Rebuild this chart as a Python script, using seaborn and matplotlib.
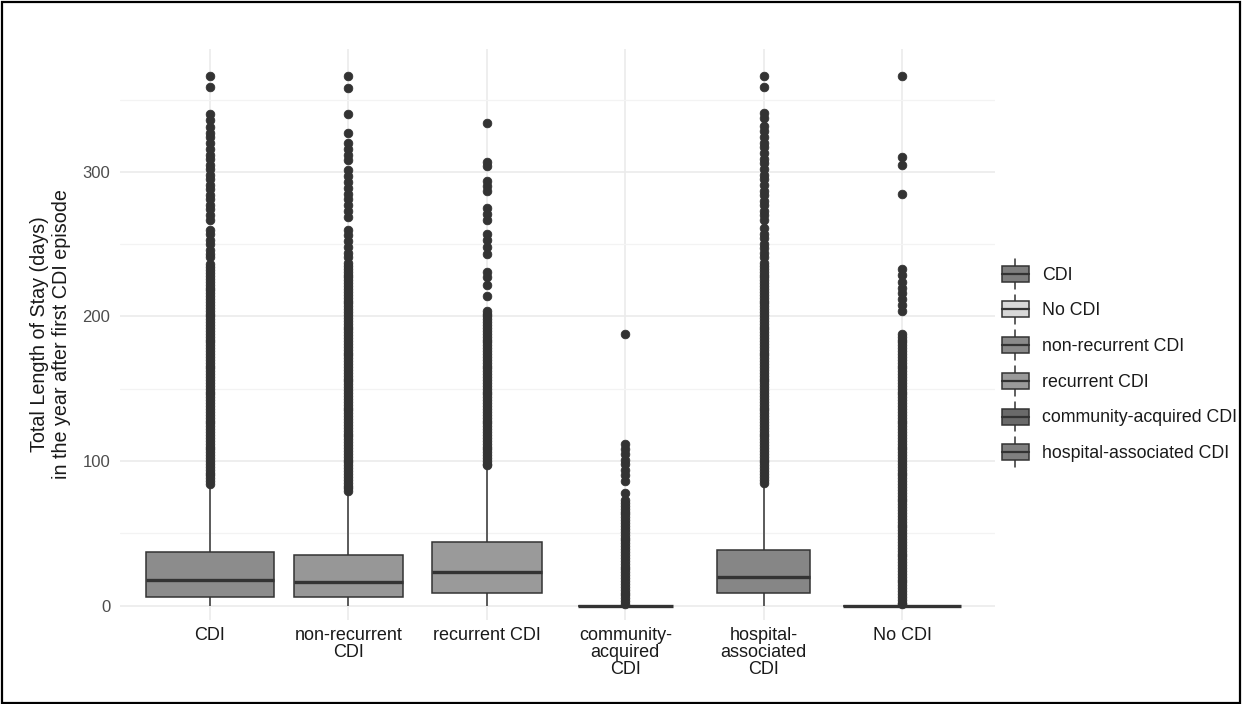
import numpy as np
import pandas as pd
import matplotlib
matplotlib.use("Agg")
import matplotlib.pyplot as plt
import seaborn as sns
from matplotlib.legend_handler import HandlerBase
from matplotlib.patches import Patch, Rectangle
from matplotlib.lines import Line2D
from matplotlib.ticker import FixedLocator

# ---------------- data ----------------
categories = ["CDI", "non-recurrent CDI", "recurrent CDI",
              "community-acquired CDI", "hospital-associated CDI", "No CDI"]
tick_labels = ["CDI", "non-recurrent\nCDI", "recurrent CDI",
               "community-\nacquired\nCDI", "hospital-\nassociated\nCDI", "No CDI"]

# box summaries (days)
whisker_low = [0, 0, 0, 0, 0, 0]
q1 = [6.2, 6.2, 8.5, 0, 8.8, 0]
median = [17.7, 16.6, 23.0, 0, 20.0, 0]
q3 = [36.8, 35.0, 43.7, 0, 38.5, 0]
whisker_high = [82, 77, 95, 0, 82, 0]

# outlying observations (days)
outliers_cdi = [366, 359, 340, 336, 331, 327, 324,
                320, 316, 312, 309, 305, 302, 298, 295, 291, 288, 284, 281, 277, 274, 270, 267,
                260, 257, 253, 250, 246, 243, 241,
                236, 234, 232, 230, 228, 226, 224, 222, 220, 218, 216, 214, 212, 210, 208,
                206, 204, 202, 200, 198, 196, 194, 192, 190, 188, 186, 184, 182, 180, 178,
                176, 174, 172, 170, 168, 166, 164, 162, 160, 158, 156, 154, 152, 150, 148,
                146, 144, 142, 140, 138, 136, 134, 132, 130, 128, 126, 124, 122, 120, 118,
                116, 114, 112, 110, 108, 106, 104, 102, 100, 98, 96, 94, 92, 90, 88, 86, 84]
outliers_nonrec = [366, 358, 340, 327, 320, 316, 312, 308, 301, 297, 293, 289, 285, 281, 277, 273, 269,
                   260, 256, 252, 248, 244, 241,
                   237, 235, 233, 231, 229, 227, 225, 223, 221, 219, 217, 215, 213, 211, 209,
                   207, 205, 203, 201, 199, 197, 195, 193, 191, 189, 187, 185, 183, 181, 179,
                   177, 175, 173, 171, 169, 167, 165, 163, 161, 159, 157, 155, 153, 151, 149,
                   147, 145, 143, 141, 139, 137, 135, 133, 131, 129, 127, 125, 123, 121, 119,
                   117, 115, 113, 111, 109, 107, 105, 103, 101, 99, 97, 95, 93, 91, 89, 87,
                   85, 83, 81, 79]
outliers_rec = [334, 307, 304, 294, 290, 287, 275, 271, 267, 257, 253, 248, 243, 231, 227, 222, 214,
                204, 202, 200, 198, 196, 194, 192, 190, 188, 186, 184, 182, 180, 178, 176,
                174, 172, 170, 168, 166, 164, 162, 160, 158, 156, 154, 152, 150, 148, 146,
                144, 142, 140, 138, 136, 134, 132, 130, 128, 126, 124, 122, 120, 118, 116,
                114, 112, 110, 108, 106, 104, 102, 100, 98, 97]
outliers_community = [188, 112, 108, 105, 101, 98, 94, 90, 86, 78,
                      73, 71, 69, 67, 65, 63, 61, 59, 57, 55, 53, 51, 49, 47, 45, 43, 41, 39,
                      37, 35, 33, 31, 29, 27, 25, 23, 21, 19, 17, 15, 13, 11, 9, 7, 5, 3, 1]
outliers_hospital = [366, 359, 341, 337, 332, 328, 324,
                     320, 317, 313, 309, 306, 302, 298, 295, 291, 287, 284, 280, 277, 273, 270, 267,
                     261, 257, 254, 250, 247, 244, 241,
                     237, 235, 233, 231, 229, 227, 225, 223, 221, 219, 217, 215, 213, 211, 209,
                     207, 205, 203, 201, 199, 197, 195, 193, 191, 189, 187, 185, 183, 181, 179,
                     177, 175, 173, 171, 169, 167, 165, 163, 161, 159, 157, 155, 153, 151, 149,
                     147, 145, 143, 141, 139, 137, 135, 133, 131, 129, 127, 125, 123, 121, 119,
                     117, 115, 113, 111, 109, 107, 105, 103, 101, 99, 97, 95, 93, 91, 89, 87, 85]
outliers_nocdi = [366, 310, 305, 285, 233, 229, 224, 220, 216, 212, 208, 204,
                  188, 186, 184, 182, 180, 178, 176, 174, 172, 170, 168, 166, 164, 162, 160,
                  158, 156, 154, 152, 150, 148, 146, 144, 142, 140, 138, 136, 134, 132, 130,
                  128, 126, 124, 122, 120, 118, 116, 114, 112, 110, 108, 106, 104, 102, 100,
                  98, 96, 94, 92, 90, 88, 86, 84, 82, 80, 78, 76, 74, 72, 70, 68, 66, 64, 62,
                  60, 58, 56, 54, 52, 50, 48, 46, 44, 42, 40, 38, 36, 34, 32, 30, 28, 26, 24,
                  22, 20, 18, 16, 14, 12, 10, 8, 6, 4, 2, 1]
outliers = [outliers_cdi, outliers_nonrec, outliers_rec,
            outliers_community, outliers_hospital, outliers_nocdi]

legend_labels = ["CDI", "No CDI", "non-recurrent CDI", "recurrent CDI",
                 "community-acquired CDI", "hospital-associated CDI"]

# ---------------- styles ----------------
box_colors = ["#8c8c8c", "#979797", "#9a9a9a", "#6e6e6e", "#868686", "#d6d6d6"]
box_widths = [0.92, 0.79, 0.79, 0.69, 0.67, 0.85]
legend_colors = ["#7e7e7e", "#d8d8d8", "#8a8a8a", "#9a9a9a", "#6a6a6a", "#808080"]
ink = "#333333"

# ---------------- build observations matching the box summaries ----------------
frames = []
for i, cat in enumerate(categories):
    out = outliers[i]
    m = len(out)
    if q3[i] > q1[i]:
        k = 3 * m
        vals = ([whisker_low[i]] * (k + m) + [q1[i]] * k + [median[i]] * k +
                [q3[i]] * k + [whisker_high[i]] * k + out)
    else:
        vals = [median[i]] * (4 * m) + out
    frames.append(pd.DataFrame({"group": cat, "days": vals}))
df = pd.concat(frames, ignore_index=True)

# ---------------- plot ----------------
sns.set_style("white")
plt.rcParams["font.family"] = ["Liberation Sans", "DejaVu Sans"]

fig = plt.figure(figsize=(12.42, 7.04), dpi=100)
ax = fig.add_axes([120 / 1242, 1 - 620 / 704, 875 / 1242, 571 / 704])
ax.set_axisbelow(True)

for i, cat in enumerate(categories):
    sns.boxplot(data=df[df["group"] == cat], x="group", y="days", order=categories,
                width=box_widths[i], color=box_colors[i], saturation=1,
                linecolor=ink, linewidth=1.1, showcaps=False, fliersize=6.2,
                flierprops=dict(marker="o", markerfacecolor=ink, markeredgecolor=ink,
                                markeredgewidth=0.6),
                medianprops=dict(color=ink, linewidth=2.4),
                ax=ax)

ax.set_xlim(-0.65, 5.67)
ax.set_ylim(-10, 385)
ax.yaxis.set_major_locator(FixedLocator([0, 100, 200, 300]))
ax.yaxis.set_minor_locator(FixedLocator([50, 150, 250, 350]))
ax.grid(which="major", axis="both", color="#ebebeb", linewidth=1.2)
ax.grid(which="minor", axis="y", color="#f3f3f3", linewidth=0.9)
for s in ax.spines.values():
    s.set_visible(False)

ax.set_xticks(range(len(categories)))
ax.set_xticklabels(tick_labels)
for t in ax.get_xticklabels():
    t.set_linespacing(1.0)
ax.tick_params(axis="x", which="both", length=0, pad=5, labelsize=13, labelcolor="#1a1a1a")
ax.tick_params(axis="y", which="both", length=0, pad=7, labelsize=12, labelcolor="#4d4d4d")
ax.set_xlabel("")
ax.set_ylabel("Total Length of Stay (days)\nin the year after first CDI episode",
              fontsize=14.2, color="#1a1a1a", labelpad=8, linespacing=1.25)


class BoxHandler(HandlerBase):
    def create_artists(self, legend, orig_handle, xdescent, ydescent, width, height,
                       fontsize, trans):
        x0, y0 = -xdescent, -ydescent
        cx = x0 + width / 2
        whisk = Line2D([cx, cx], [y0 - 0.2 * height, y0 + 1.2 * height], color=ink,
                       lw=1.1, transform=trans)
        rect = Rectangle((x0, y0 + 0.12 * height), width, 0.76 * height,
                         facecolor=orig_handle.get_facecolor(), edgecolor=ink, lw=1.1,
                         transform=trans)
        med = Line2D([x0, x0 + width], [y0 + height / 2] * 2, color=ink, lw=1.6,
                     transform=trans)
        return [whisk, rect, med]


handles = [Patch(facecolor=c) for c in legend_colors]
fig.legend(handles, legend_labels, handler_map={Patch: BoxHandler()},
           loc="center left", bbox_to_anchor=(1002 / 1242, 1 - 363 / 704),
           frameon=False, fontsize=12.8, labelcolor="#1a1a1a",
           handlelength=1.5, handleheight=1.45, handletextpad=0.75,
           labelspacing=0.82, borderpad=0, borderaxespad=0)

fig.patches.append(Rectangle((0.002, 0.002), 0.996, 0.995, transform=fig.transFigure,
                             fill=False, edgecolor="black", linewidth=1.6))

fig.savefig("out.png", dpi=100)
